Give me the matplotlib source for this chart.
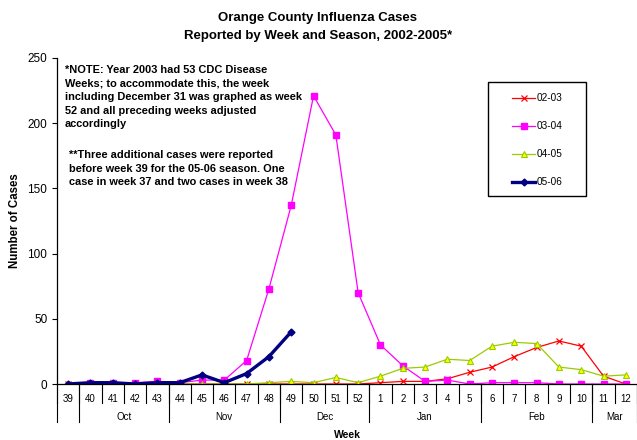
import numpy as np
import matplotlib
matplotlib.use("Agg")
import matplotlib.pyplot as plt
from matplotlib import transforms
from matplotlib.patches import Rectangle

plt.rcParams['font.family'] = ['Liberation Sans', 'DejaVu Sans']

nan = np.nan
weeks = [39, 40, 41, 42, 43, 44, 45, 46, 47, 48, 49, 50, 51, 52,
         1, 2, 3, 4, 5, 6, 7, 8, 9, 10, 11, 12]
months = ["", "Oct", "Nov", "Dec", "Jan", "Feb", "Mar"]
month_lengths = [1, 4, 5, 4, 5, 5, 2]

cases_0203 = [0, 0, 0, 0, 0, 0, 0, 0, 0, 0, 0, 0, 0, 0,
              1, 2, 2, 4, 9, 13, 21, 28, 33, 29, 6, 0]
cases_0304 = [nan, 1, 1, 1, 2, 1, 3, 3, 18, 73, 137, 221, 191, 70,
              30, 14, 2, 3, 0, 1, 1, 1, 0, 0, 0, 0]
cases_0405 = [nan, 0, 0, 0, 0, 0, 0, 0, 0, 1, 2, 1, 5, 1,
              6, 12, 13, 19, 18, 29, 32, 31, 13, 11, 6, 7]
cases_0506 = [0, 1, 1, 0, 1, 1, 7, 1, 8, 21, 40, nan, nan, nan,
              nan, nan, nan, nan, nan, nan, nan, nan, nan, nan, nan, nan]

W, H = 637, 440
fig = plt.figure(figsize=(W / 100, H / 100), dpi=100)
ax = fig.add_axes([57 / W, 56 / H, 580 / W, 326 / H])

x = np.arange(len(weeks))
ax.plot(x, cases_0203, color='#FF0000', lw=0.9, marker='x', ms=4.5, mew=0.9, label='02-03')
ax.plot(x, cases_0304, color='#FF00FF', lw=0.9, marker='s', ms=3.8, label='03-04')
ax.plot(x, cases_0405, color='#99CC00', lw=0.9, marker='^', ms=4.5,
        mfc='#FFFF00', mec='#99CC00', mew=0.8, label='04-05')
ax.plot(x, cases_0506, color='#000080', lw=2.4, marker='D', ms=3.5, label='05-06')

ax.set_xlim(-0.5, len(weeks) - 0.5)
ax.set_ylim(0, 250)
ax.set_yticks(range(0, 251, 50))
ax.tick_params(axis='y', labelsize=8.5, length=3.5, width=0.8, pad=3.5)
ax.set_xticks(x, [str(w) for w in weeks])
ax.tick_params(axis='x', labelsize=7, length=0, pad=7)
for s in ['top', 'right']:
    ax.spines[s].set_visible(False)
ax.spines['left'].set_linewidth(0.9)
ax.spines['bottom'].set_linewidth(0.9)

# category axis dividers
ah = 326
trans = transforms.blended_transform_factory(ax.transData, ax.transAxes)
for b in np.arange(len(weeks) + 1) - 0.5:
    ax.plot([b, b], [0, -19 / ah], transform=trans, clip_on=False, color='black', lw=0.8)
edges = np.concatenate([[0], np.cumsum(month_lengths)]) - 0.5
for b in edges:
    ax.plot([b, b], [0, -38 / ah], transform=trans, clip_on=False, color='black', lw=0.8)
for name, lo, hi in zip(months, edges[:-1], edges[1:]):
    ax.text((lo + hi) / 2, -33 / ah, name, transform=trans, ha='center', va='center', fontsize=7)

fig.text(347 / W, 1 - 435 / H, 'Week', ha='center', va='center', fontsize=7.5, fontweight='bold')
fig.text(15 / W, 1 - 221 / H, 'Number of Cases', ha='center', va='center', rotation=90,
         fontsize=8.3, fontweight='bold')

fig.text(318 / W, 1 - 27 / H, 'Orange County Influenza Cases\nReported by Week and Season, 2002-2005*',
         ha='center', va='center', fontsize=9.5, fontweight='bold', linespacing=1.6)

fig.text(65 / W, 1 - 65 / H,
         '*NOTE: Year 2003 had 53 CDC Disease\nWeeks; to accommodate this, the week\n'
         'including December 31 was graphed as week\n52 and all preceding weeks adjusted\naccordingly',
         ha='left', va='top', fontsize=7.9, fontweight='bold', linespacing=1.45)
fig.text(69 / W, 1 - 150 / H,
         '**Three additional cases were reported\nbefore week 39 for the 05-06 season. One\n'
         'case in week 37 and two cases in week 38',
         ha='left', va='top', fontsize=7.9, fontweight='bold', linespacing=1.45)

fig.patches.append(Rectangle((488 / W, 1 - 196 / H), 98 / W, 114 / H, transform=fig.transFigure,
                             fill=False, edgecolor='black', lw=1.0))
fig.legend(loc='upper left', bbox_to_anchor=(512 / W, 1 - 93 / H), frameon=False,
           fontsize=7.2, borderpad=0, borderaxespad=0, labelspacing=1.8,
           handlelength=2.3, handletextpad=0.2)

fig.savefig('out.png', dpi=100)
